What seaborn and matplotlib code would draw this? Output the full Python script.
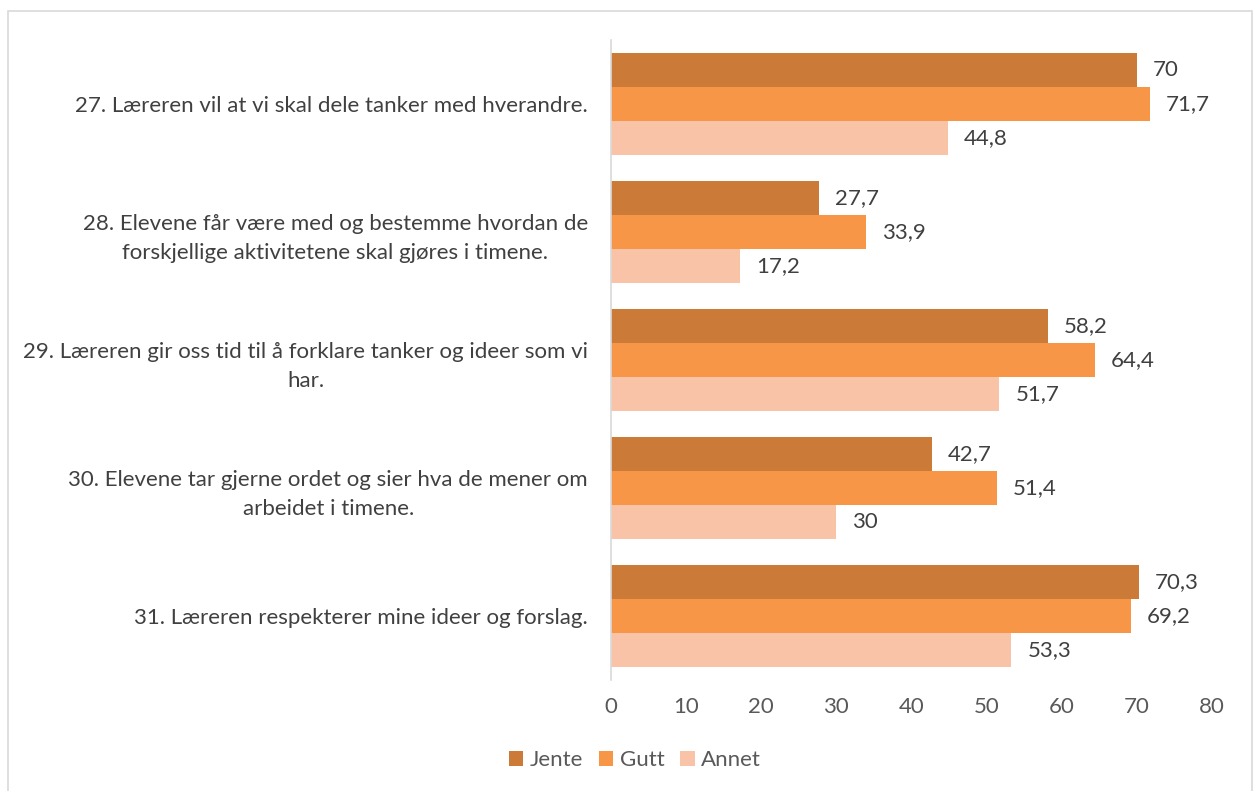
import matplotlib
matplotlib.use("Agg")
import matplotlib.pyplot as plt
import seaborn as sns
import pandas as pd
from matplotlib.patches import Rectangle

categories = [
    "27. Læreren vil at vi skal dele tanker med hverandre.",
    "28. Elevene får være med og bestemme hvordan de\nforskjellige aktivitetene skal gjøres i timene.",
    "29. Læreren gir oss tid til å forklare tanker og ideer som vi\nhar.",
    "30. Elevene tar gjerne ordet og sier hva de mener om\narbeidet i timene.",
    "31. Læreren respekterer mine ideer og forslag.",
]
jente = [70, 27.7, 58.2, 42.7, 70.3]
gutt = [71.7, 33.9, 64.4, 51.4, 69.2]
annet = [44.8, 17.2, 51.7, 30, 53.3]
series = ["Jente", "Gutt", "Annet"]
colors = ["#CC7A38", "#F79646", "#F9C3A8"]
xticks = [0, 10, 20, 30, 40, 50, 60, 70, 80]

rows = []
for s, vals in zip(series, [jente, gutt, annet]):
    for c, v in zip(categories, vals):
        rows.append({"Kategori": c, "Serie": s, "Verdi": v})
df = pd.DataFrame(rows)

sns.set_theme(style="white")
plt.rcParams["font.family"] = ["Lato", "DejaVu Sans"]

W, H = 1254, 791
fig = plt.figure(figsize=(W / 100, H / 100), dpi=100)
ax = fig.add_axes([611 / W, 1 - 680 / H, (1212 - 611) / W, (680 - 40) / H])

sns.barplot(data=df, y="Kategori", x="Verdi", hue="Serie", order=categories,
            hue_order=series, palette=colors, orient="h", width=0.8,
            saturation=1, ax=ax, legend=True, errorbar=None, linewidth=0)

def fmt(v):
    s = ("%.1f" % v).rstrip("0").rstrip(".")
    return s.replace(".", ",")

for cont in ax.containers:
    vals = [b.get_width() for b in cont]
    ax.bar_label(cont, labels=[fmt(v) for v in vals], padding=11.5,
                 fontsize=16, color="#404040")

ax.set_xlim(0, 80)
ax.set_xticks(xticks)
ax.set_xticklabels([str(t) for t in xticks], fontsize=16, color="#595959")
ax.tick_params(axis="x", length=0, pad=12)
ax.tick_params(axis="y", length=0, pad=16.5)
for lbl in ax.get_yticklabels():
    lbl.set_fontsize(16)
    lbl.set_color("#404040")
    lbl.set_horizontalalignment("right")
    lbl.set_multialignment("center")
    lbl.set_linespacing(1.55)
ax.set_xlabel("")
ax.set_ylabel("")
for sp in ["top", "right", "bottom"]:
    ax.spines[sp].set_visible(False)
ax.spines["left"].set_color("#D9D9D9")
ax.spines["left"].set_linewidth(1.2)
ax.grid(False)

handles, labels = ax.get_legend_handles_labels()
ax.legend_.remove()
fig.legend(handles, labels, loc="center", bbox_to_anchor=(635 / W, 1 - 760 / H),
           ncol=3, frameon=False, fontsize=16, handlelength=0.65, handleheight=0.65,
           handletextpad=0.3, columnspacing=0.7, labelcolor="#595959")

fig.patches.append(Rectangle((8 / W, -0.01), (1252 - 8) / W, 1 - 11 / H + 0.01,
                             transform=fig.transFigure, fill=False,
                             edgecolor="#D9D9D9", linewidth=1.2))

fig.savefig("out.png", dpi=100)
